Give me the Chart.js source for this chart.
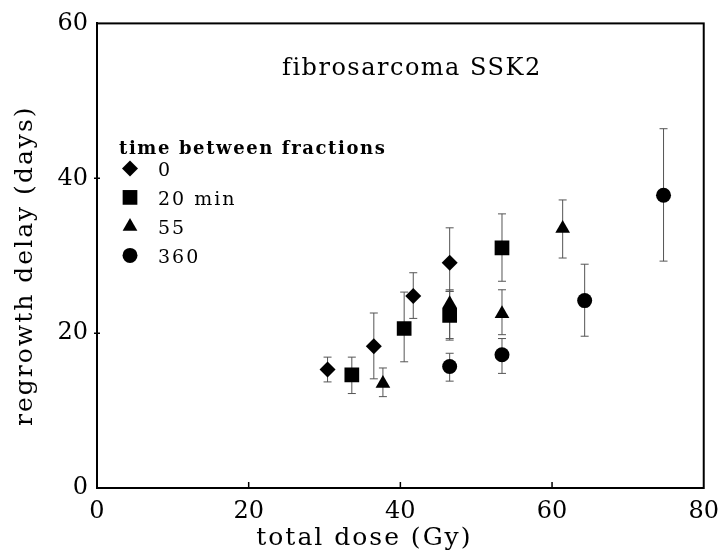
<!DOCTYPE html>
<html>
<head>
<meta charset="utf-8">
<script src="https://cdn.jsdelivr.net/npm/chart.js@4.4.1/dist/chart.umd.min.js"></script>
<style>
  html, body { margin: 0; padding: 0; background: #fff; }
  #wrap { width: 728px; height: 560px; }
</style>
</head>
<body>
<div id="wrap"><canvas id="chart"></canvas></div>
<script>
// ---- data (dose in Gy, delay in days, error bar ends) ----
const DOSE_0 = [30.4, 36.5, 41.7, 46.5];
const DELAY_0 = [15.3, 18.3, 24.8, 29.1];
const LO_0 = [13.7, 14.1, 21.9, 25.4];
const HI_0 = [16.9, 22.6, 27.8, 33.6];

const DOSE_20 = [33.6, 40.5, 46.5, 53.4];
const DELAY_20 = [14.6, 20.6, 22.3, 31.0];
const LO_20 = [12.2, 16.3, 19.1, 26.7];
const HI_20 = [16.9, 25.3, 25.4, 35.4];

const DOSE_55 = [37.7, 46.5, 53.4, 61.4];
const DELAY_55 = [13.5, 23.8, 22.5, 33.5];
const LO_55 = [11.8, 19.3, 19.8, 29.7];
const HI_55 = [15.5, 25.6, 25.6, 37.2];

const DOSE_360 = [46.5, 53.4, 64.3, 74.7];
const DELAY_360 = [15.7, 17.2, 24.2, 37.8];
const LO_360 = [13.8, 14.8, 19.6, 29.3];
const HI_360 = [17.4, 19.3, 28.9, 46.4];

const LEGEND_LABELS = ['0', '20 min', '55', '360'];
const X_TICKS = [0, 20, 40, 60, 80];
const Y_TICKS = [0, 20, 40, 60];

const FONT = '"DejaVu Serif", "Liberation Serif", serif';

function pts(xs, ys) { return xs.map((x, i) => ({ x: x, y: ys[i] })); }

function makeSet(label, xs, ys, lo, hi, style, r) {
    return {
        label: label,
        data: pts(xs, ys),
        errLo: lo,
        errHi: hi,
        pointStyle: style,
        pointRadius: r,
        pointHoverRadius: r,
        backgroundColor: '#000',
        borderColor: '#000',
        borderWidth: 0,
        showLine: false
    };
}

// error bars, frame, inward ticks, title, legend, axis titles
const decor = {
    id: 'decor',
    beforeDatasetsDraw(chart) {
        const ctx = chart.ctx, xs = chart.scales.x, ys = chart.scales.y;
        ctx.save();
        ctx.strokeStyle = '#555';
        ctx.lineWidth = 1;
        chart.data.datasets.forEach(ds => {
            ds.data.forEach((p, i) => {
                const px = xs.getPixelForValue(p.x);
                const y1 = ys.getPixelForValue(ds.errLo[i]);
                const y2 = ys.getPixelForValue(ds.errHi[i]);
                ctx.beginPath();
                ctx.moveTo(px, y1); ctx.lineTo(px, y2);
                ctx.moveTo(px - 4, y1); ctx.lineTo(px + 4, y1);
                ctx.moveTo(px - 4, y2); ctx.lineTo(px + 4, y2);
                ctx.stroke();
            });
        });
        ctx.restore();
    },
    afterDraw(chart) {
        const ctx = chart.ctx, a = chart.chartArea;
        const xs = chart.scales.x, ys = chart.scales.y;
        ctx.save();
        // frame
        ctx.strokeStyle = '#000';
        ctx.lineWidth = 2;
        ctx.strokeRect(a.left, a.top, a.right - a.left, a.bottom - a.top);
        ctx.lineWidth = 1.5;
        ctx.beginPath();
        X_TICKS.slice(1, -1).forEach(v => {
            const px = xs.getPixelForValue(v);
            ctx.moveTo(px, a.bottom); ctx.lineTo(px, a.bottom - 6);
        });
        Y_TICKS.slice(1, -1).forEach(v => {
            const py = ys.getPixelForValue(v);
            ctx.moveTo(a.left - 3, py); ctx.lineTo(a.left + 3, py);
        });
        ctx.stroke();

        ctx.fillStyle = '#000';
        ctx.textAlign = 'left';
        ctx.textBaseline = 'alphabetic';
        ctx.letterSpacing = '1.5px';
        // title inside plot
        ctx.font = '24px ' + FONT;
        ctx.fillText('fibrosarcoma SSK2', a.left + 185, a.top + 52);

        // legend
        ctx.font = 'bold 18px ' + FONT;
        ctx.letterSpacing = '1.6px';
        ctx.fillText('time between fractions', a.left + 22, a.top + 131);
        ctx.font = '19px ' + FONT;
        ctx.letterSpacing = '2px';
        chart.data.datasets.forEach((ds, i) => {
            const cy = a.top + 145 + i * 29;
            Chart.helpers.drawPoint(ctx, {
                pointStyle: ds.pointStyle, radius: ds.pointRadius, rotation: 0, borderWidth: 0
            }, a.left + 33, cy);
            ctx.fillText(LEGEND_LABELS[i], a.left + 61, cy + 8);
        });

        // axis titles
        ctx.font = '25px ' + FONT;
        ctx.letterSpacing = '2px';
        ctx.textAlign = 'center';
        ctx.fillText('total dose (Gy)', (a.left + a.right) / 2 - 36, 545);
        ctx.translate(25, (a.top + a.bottom) / 2 + 10);
        ctx.rotate(-Math.PI / 2);
        ctx.textBaseline = 'middle';
        ctx.fillText('regrowth delay (days)', 0, 0);
        ctx.restore();
    }
};

new Chart(document.getElementById('chart'), {
    type: 'scatter',
    data: {
        datasets: [
            makeSet('0', DOSE_0, DELAY_0, LO_0, HI_0, 'rectRot', 8),
            makeSet('20 min', DOSE_20, DELAY_20, LO_20, HI_20, 'rect', 10.4),
            makeSet('55', DOSE_55, DELAY_55, LO_55, HI_55, 'triangle', 8.5),
            makeSet('360', DOSE_360, DELAY_360, LO_360, HI_360, 'circle', 7.5)
        ]
    },
    options: {
        responsive: true,
        maintainAspectRatio: false,
        animation: false,
        layout: { padding: { top: 17, right: 23, bottom: 0, left: 0 } },
        plugins: {
            legend: { display: false },
            tooltip: { enabled: false }
        },
        scales: {
            x: {
                type: 'linear', min: 0, max: 80,
                ticks: { stepSize: 20, padding: 9, color: '#000', font: { family: FONT, size: 24 } },
                grid: { display: false, drawTicks: false },
                border: { display: true, color: '#000', width: 2 },
                afterFit: axis => { axis.height = 72; }
            },
            y: {
                type: 'linear', min: 0, max: 60,
                ticks: { stepSize: 20, padding: 9, color: '#000', font: { family: FONT, size: 24 } },
                grid: { display: false, drawTicks: false },
                border: { display: true, color: '#000', width: 2 },
                afterFit: axis => { axis.width = 97; }
            }
        }
    },
    plugins: [decor]
});
</script>
</body>
</html>
